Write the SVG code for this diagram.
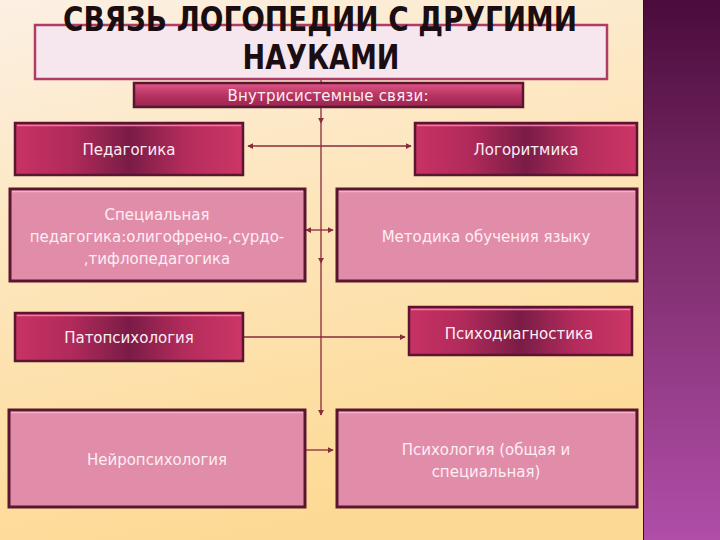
<svg xmlns="http://www.w3.org/2000/svg" width="720" height="540" viewBox="0 0 720 540">
<defs>
<linearGradient id="bg" x1="0" y1="0" x2="0.3" y2="1">
<stop offset="0" stop-color="#fcf0e4"/>
<stop offset="0.35" stop-color="#fde8c4"/>
<stop offset="1" stop-color="#fdda94"/>
</linearGradient>
<linearGradient id="panel" x1="0" y1="0" x2="0" y2="1">
<stop offset="0" stop-color="#4a0c3a"/>
<stop offset="0.4" stop-color="#7a2a68"/>
<stop offset="1" stop-color="#b04ea8"/>
</linearGradient>
<linearGradient id="dark" x1="0" y1="0" x2="1" y2="0">
<stop offset="0" stop-color="#c83264"/>
<stop offset="0.25" stop-color="#b02a5a"/>
<stop offset="0.5" stop-color="#7a1c46"/>
<stop offset="0.75" stop-color="#b42c5c"/>
<stop offset="1" stop-color="#cc3666"/>
</linearGradient>
<linearGradient id="sub" x1="0" y1="0" x2="0" y2="1">
<stop offset="0" stop-color="#e05888"/>
<stop offset="0.5" stop-color="#b83462"/>
<stop offset="1" stop-color="#9a2450"/>
</linearGradient>
<marker id="arr" viewBox="0 0 8 8" refX="7" refY="4" markerWidth="6" markerHeight="6" orient="auto-start-reverse" markerUnits="userSpaceOnUse">
<path d="M0,0 L8,4 L0,8 z" fill="#8a2a3a"/>
</marker>
<style>
.lbl{font-family:"DejaVu Sans","Noto Sans",sans-serif;font-size:15px;fill:#fdeef4;text-anchor:middle}
.dbox{fill:url(#dark);stroke:#5a1630;stroke-width:2.5}
.lbox{fill:#e18ca9;stroke:#5a1630;stroke-width:3}
.hi{stroke:#f07aa0;stroke-width:1.5}
.hil{stroke:#f6b0c8;stroke-width:1.5}
.ln{stroke:#8a2a3a;stroke-width:1.3;fill:none}
</style>
</defs>
<rect x="0" y="0" width="720" height="540" fill="url(#bg)"/>
<rect x="643" y="0" width="77" height="540" fill="url(#panel)"/>
<line x1="643.5" y1="0" x2="643.5" y2="540" stroke="#3a0a30" stroke-width="1"/>

<g id="title">
<rect x="35" y="25" width="572" height="54" fill="#f6e6ee" stroke="#b03c66" stroke-width="2.5"/>
<text x="320" y="31" font-family="'DejaVu Sans Condensed','DejaVu Sans',sans-serif" font-weight="bold" font-size="33" fill="#1a0e12" text-anchor="middle" textLength="514" lengthAdjust="spacingAndGlyphs">СВЯЗЬ ЛОГОПЕДИИ С ДРУГИМИ</text>
<text x="321" y="69" font-family="'DejaVu Sans Condensed','DejaVu Sans',sans-serif" font-weight="bold" font-size="33" fill="#1a0e12" text-anchor="middle" textLength="157" lengthAdjust="spacingAndGlyphs">НАУКАМИ</text>
</g>

<g id="connectors">
<line class="ln" x1="321" y1="80" x2="321" y2="123" marker-end="url(#arr)"/>
<line class="ln" x1="321" y1="123" x2="321" y2="263" marker-end="url(#arr)"/>
<line class="ln" x1="321" y1="263" x2="321" y2="415" marker-end="url(#arr)"/>
<line class="ln" x1="248" y1="146" x2="411" y2="146" marker-start="url(#arr)" marker-end="url(#arr)"/>
<line class="ln" x1="306" y1="230" x2="333" y2="230" marker-start="url(#arr)" marker-end="url(#arr)"/>
<line class="ln" x1="244" y1="337" x2="405" y2="337" marker-end="url(#arr)"/>
<line class="ln" x1="306" y1="450" x2="333" y2="450" marker-end="url(#arr)"/>
</g>

<g id="sub">
<rect x="134" y="83" width="389" height="24" fill="url(#sub)" stroke="#5a1630" stroke-width="2.5"/>
<text class="lbl" x="328" y="101" fill="#ffffff" textLength="201">Внутрисистемные связи:</text>
</g>

<g id="n-pedagogika">
<rect class="dbox" x="15" y="123" width="228" height="52"/>
<line class="hi" x1="17" y1="125.5" x2="241" y2="125.5"/>
<text class="lbl" x="129" y="155">Педагогика</text>
</g>

<g id="n-logoritmika">
<rect class="dbox" x="415" y="123" width="222" height="52"/>
<line class="hi" x1="417" y1="125.5" x2="635" y2="125.5"/>
<text class="lbl" x="526" y="155">Логоритмика</text>
</g>

<g id="n-specped">
<rect class="lbox" x="10" y="189" width="295" height="92"/>
<line class="hil" x1="12" y1="191.5" x2="303" y2="191.5"/>
<text class="lbl" x="157" y="220">Специальная</text>
<text class="lbl" x="157" y="242">педагогика:олигофрено-,сурдо-</text>
<text class="lbl" x="157" y="264">,тифлопедагогика</text>
</g>

<g id="n-metodika">
<rect class="lbox" x="337" y="189" width="300" height="92"/>
<line class="hil" x1="339" y1="191.5" x2="635" y2="191.5"/>
<text class="lbl" x="486" y="242">Методика обучения языку</text>
</g>

<g id="n-patopsy">
<rect class="dbox" x="15" y="313" width="228" height="48"/>
<line class="hi" x1="17" y1="315.5" x2="241" y2="315.5"/>
<text class="lbl" x="129" y="343">Патопсихология</text>
</g>

<g id="n-psydiag">
<rect class="dbox" x="409" y="307" width="223" height="48"/>
<line class="hi" x1="411" y1="309.5" x2="630" y2="309.5"/>
<text class="lbl" x="519" y="339">Психодиагностика</text>
</g>

<g id="n-neuro">
<rect class="lbox" x="9" y="410" width="296" height="97"/>
<line class="hil" x1="11" y1="412.5" x2="303" y2="412.5"/>
<text class="lbl" x="157" y="465">Нейропсихология</text>
</g>

<g id="n-psy">
<rect class="lbox" x="337" y="410" width="300" height="97"/>
<line class="hil" x1="339" y1="412.5" x2="635" y2="412.5"/>
<text class="lbl" x="486" y="455">Психология (общая и</text>
<text class="lbl" x="486" y="477">специальная)</text>
</g>
</svg>
